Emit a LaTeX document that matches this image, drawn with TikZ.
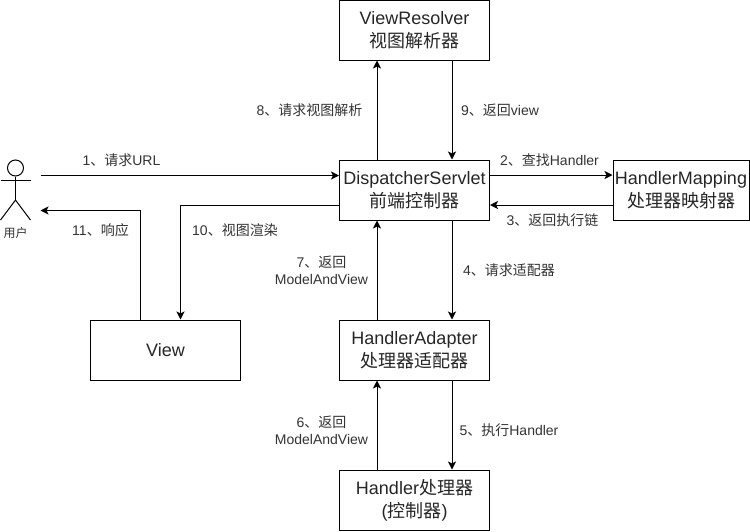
\documentclass[tikz,border=0pt]{standalone}
\usepackage{fontspec}
\setmainfont{Liberation Sans}
\newfontfamily\cjk{Noto Sans CJK SC}
\usetikzlibrary{arrows.meta}
\tikzset{
  box/.style={draw=black,line width=1pt,minimum width=150pt,minimum height=60pt,inner sep=0pt,align=center,font=\fontsize{18}{23}\selectfont,text=black!85},
  lab/.style={inner sep=0pt,align=center,font=\fontsize{14}{17}\selectfont,text=black!80},
  conn/.style={draw=black,line width=1pt,-{Stealth[length=8pt,width=8pt,inset=2pt]}},
  limb/.style={draw=black,line width=1pt}
}
\newcommand{\zh}[1]{{\cjk #1}}
\begin{document}
\begin{tikzpicture}[x=1pt,y=-1pt]
\useasboundingbox (0,0) rectangle (750,531);
\path[fill=white] (0,0) rectangle (750,531);
\node[box] (vr) at (414.5,30) {ViewResolver\\\zh{视图解析器}};
\node[box] (ds) at (414.5,190) {DispatcherServlet\\\zh{前端控制器}};
\node[box,minimum width=136pt] (hm) at (681,190) {HandlerMapping\\\zh{处理器映射器}};
\node[box] (ha) at (414.5,350) {HandlerAdapter\\\zh{处理器适配器}};
\node[box] (h) at (414.5,500) {Handler\zh{处理器}\\(\zh{控制器})};
\node[box] (v) at (165.5,350) {View};
% actor
\coordinate (headc) at (15.5,168);
\node[circle,draw=black,line width=1pt,minimum size=16pt,inner sep=0pt] (head) at (headc) {};
\coordinate (hip) at (15.5,200);
\coordinate (armL) at (0.5,180);
\coordinate (armR) at (30.5,180);
\coordinate (legL) at (0.5,220);
\coordinate (legR) at (30.5,220);
\draw[limb] (head.south) -- (hip);
\draw[limb] (armL) -- (armR);
\draw[limb] (legL) -- (hip) -- (legR);
\node[lab,font=\fontsize{12}{14}\selectfont] (ul) at (15.5,233) {\zh{用户}};
\coordinate (act1) at (40.5,175.5);
\coordinate (act2) at (40.5,210.5);
% connectors
\draw[conn] (act1) -- (act1 -| ds.west);
\draw[conn] ([xshift=-37.5pt]ds.north) -- ([xshift=-37.5pt]vr.south);
\draw[conn] ([xshift=37.5pt]vr.south) -- ([xshift=37.5pt]ds.north);
\draw[conn] ([yshift=15pt]ds.east) -- ([yshift=15pt]hm.west);
\draw[conn] ([yshift=-15pt]hm.west) -- ([yshift=-15pt]ds.east);
\draw[conn] ([xshift=37.5pt]ds.south) -- ([xshift=37.5pt]ha.north);
\draw[conn] ([xshift=-37.5pt]ha.north) -- ([xshift=-37.5pt]ds.south);
\draw[conn] ([xshift=37.5pt]ha.south) -- ([xshift=37.5pt]h.north);
\draw[conn] ([xshift=-37.5pt]h.north) -- ([xshift=-37.5pt]ha.south);
\coordinate (c10) at (180.5,205.5);
\draw[conn] (c10 -| ds.west) -- (c10) -- (c10 |- v.north);
\coordinate (c11) at (140.5,210.5);
\draw[conn] (c11 |- v.north) -- (c11) -- (act2);
% labels
\node[lab] (l1) at (121.5,160) {1\zh{、请求}URL};
\node[lab] (l2) at (549.5,160) {2\zh{、查找}Handler};
\node[lab] (l3) at (552.5,220) {3\zh{、返回执行链}};
\node[lab] (l4) at (509,270) {4\zh{、请求适配器}};
\node[lab] (l5) at (509,430) {5\zh{、执行}Handler};
\node[lab] (l6) at (321.5,430) {6\zh{、返回}\\ModelAndView};
\node[lab] (l7) at (321.5,270) {7\zh{、返回}\\ModelAndView};
\node[lab] (l8) at (309.5,110) {8\zh{、请求视图解析}};
\node[lab] (l9) at (500,110) {9\zh{、返回}view};
\node[lab] (l10) at (235,230) {10\zh{、视图渲染}};
\node[lab] (l11) at (100.5,230) {11\zh{、响应}};
\end{tikzpicture}
\end{document}
